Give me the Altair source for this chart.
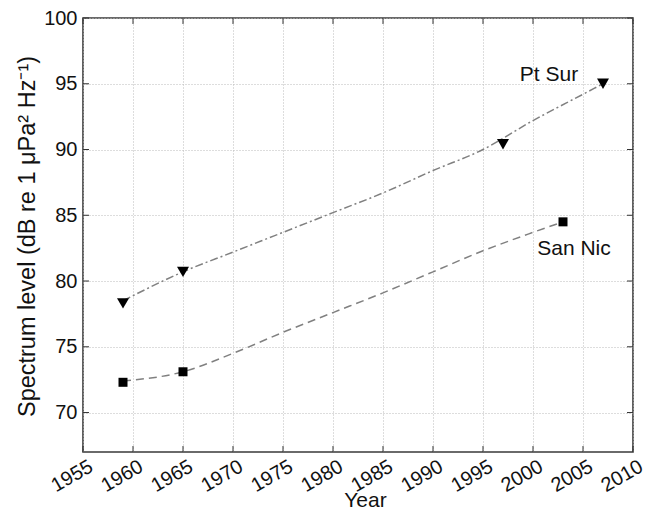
import altair as alt
import pandas as pd

# measured points
sur_years = [1959, 1965, 1997, 2007]
sur_level = [78.3, 80.7, 90.4, 95.0]
nic_years = [1959, 1965, 2003]
nic_level = [72.3, 73.1, 84.5]

# fitted curves
sur_fit_years = [1959, 1965, 1970, 1975, 1980, 1985, 1990, 1995, 2000, 2005, 2007]
sur_fit_level = [78.5, 80.7, 82.2, 83.7, 85.2, 86.7, 88.4, 90.0, 92.2, 94.2, 95.0]
nic_fit_years = [1959, 1965, 1970, 1975, 1980, 1985, 1990, 1995, 2000, 2003]
nic_fit_level = [72.4, 73.1, 74.5, 76.1, 77.6, 79.1, 80.7, 82.3, 83.7, 84.5]

site_names = ["Pt Sur", "San Nic"]
name_years = [2001.6, 2004.1]
name_level = [95.7, 82.4]

x_ticks = [1955, 1960, 1965, 1970, 1975, 1980, 1985, 1990, 1995, 2000, 2005, 2010]
y_ticks = [70, 75, 80, 85, 90, 95, 100]

W, H = 550, 434
FONT = "Liberation Sans"
INK = "#111111"

sur = pd.DataFrame({"year": sur_years, "level": sur_level})
nic = pd.DataFrame({"year": nic_years, "level": nic_level})
sur_fit = pd.DataFrame({"year": sur_fit_years, "level": sur_fit_level})
nic_fit = pd.DataFrame({"year": nic_fit_years, "level": nic_fit_level})
names = pd.DataFrame({"year": name_years, "level": name_level, "name": site_names})
xt = pd.DataFrame({"year": x_ticks})
yt = pd.DataFrame({"level": y_ticks})

x_enc = alt.X("year:Q",
              scale=alt.Scale(domain=[1955, 2010], nice=False, zero=False),
              axis=alt.Axis(values=x_ticks, format="d", title="Year",
                            labelAngle=330, labelAlign="right", labelBaseline="top",
                            labelPadding=4, labelOffset=3, tickSize=0, domain=False,
                            grid=True, gridDash=[1, 2], gridColor="#bbbbbb",
                            labelFontSize=20, titleFontSize=21,
                            titleX=282, titleY=48, titleBaseline="middle"))
y_enc = alt.Y("level:Q",
              scale=alt.Scale(domain=[67, 100], nice=False, zero=False),
              axis=alt.Axis(values=y_ticks, title="Spectrum level (dB re 1 μPa² Hz⁻¹)",
                            labelPadding=6, tickSize=0, domain=False,
                            grid=True, gridDash=[1, 2], gridColor="#bbbbbb",
                            labelFontSize=20, titleFontSize=23.5,
                            titleX=-56, titleY=218, titleBaseline="middle"))

sur_line = alt.Chart(sur_fit).mark_line(
    color="#808080", strokeWidth=1.5, strokeDash=[8, 3, 2, 3], interpolate="monotone"
).encode(x=x_enc, y=y_enc)
nic_line = alt.Chart(nic_fit).mark_line(
    color="#808080", strokeWidth=1.5, strokeDash=[8, 5], interpolate="monotone"
).encode(x="year:Q", y="level:Q")

sur_pts = alt.Chart(sur).mark_point(
    shape="triangle-down", filled=True, size=144, color="black", opacity=1
).encode(x="year:Q", y="level:Q")
nic_pts = alt.Chart(nic).mark_point(
    shape="square", filled=True, size=81, color="black", opacity=1
).encode(x="year:Q", y="level:Q")

labels = alt.Chart(names).mark_text(
    font=FONT, fontSize=21, color=INK, align="center", baseline="middle"
).encode(x="year:Q", y="level:Q", text="name:N")

# inward ticks on all four sides
tick_style = dict(color="#333333", strokeWidth=1)
xb = alt.Chart(xt).mark_rule(**tick_style).encode(x="year:Q", y=alt.value(H), y2=alt.value(H - 6))
xtop = alt.Chart(xt).mark_rule(**tick_style).encode(x="year:Q", y=alt.value(0), y2=alt.value(6))
yl = alt.Chart(yt).mark_rule(**tick_style).encode(y="level:Q", x=alt.value(0), x2=alt.value(6))
yr = alt.Chart(yt).mark_rule(**tick_style).encode(y="level:Q", x=alt.value(W), x2=alt.value(W - 6))

chart = alt.layer(sur_line, nic_line, sur_pts, nic_pts, labels, xb, xtop, yl, yr).properties(
    width=W, height=H,
    autosize=alt.AutoSizeParams(type="none"),
    padding={"left": 75, "top": 10, "right": 14, "bottom": 60},
).configure_view(
    stroke="#3a3a3a", strokeWidth=1.6
).configure_axis(
    labelFont=FONT, titleFont=FONT, labelColor=INK, titleColor=INK,
    titleFontWeight="normal"
)

chart.save("out.html", embed_options={"renderer": "svg", "actions": False})
